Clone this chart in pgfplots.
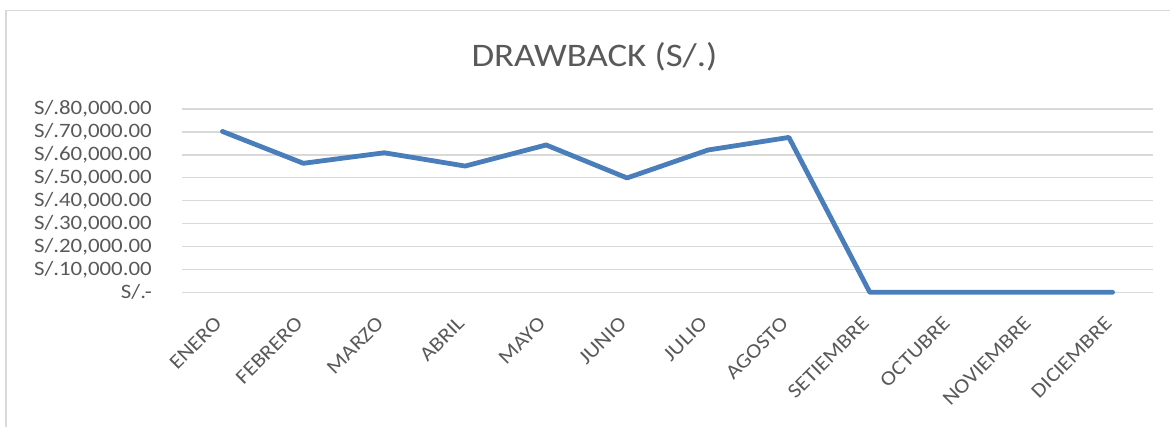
\documentclass[border=0pt]{standalone}
\usepackage{pgfplots}
\pgfplotsset{compat=1.18}
\usepackage{fontspec}
\setmainfont{Carlito}[FakeStretch=1.12]
\definecolor{txt}{HTML}{595959}
\definecolor{gridc}{HTML}{D9D9D9}
\definecolor{ln}{HTML}{4A7EBB}
\begin{document}
\begin{tikzpicture}[x=1bp,y=1bp]
\useasboundingbox (0,0) rectangle (1170,427);
\draw[gridc,line width=1.3bp] (6,0) -- (6,416.3) -- (1175,416.3);
\node[txt,font=\fontsize{33}{38}\selectfont] at (594.5,370) {DRAWBACK (S/.)};
\begin{axis}[
  at={(182bp,134.7bp)}, anchor=south west,
  scale only axis, width=971bp, height=183.3bp,
  xmin=-0.5, xmax=11.5, ymin=0, ymax=80000,
  axis line style={draw=none},
  xtick={0,...,11},
  xticklabels={ENERO,FEBRERO,MARZO,ABRIL,MAYO,JUNIO,JULIO,AGOSTO,SETIEMBRE,OCTUBRE,NOVIEMBRE,DICIEMBRE},
  ytick={0,10000,...,80000},
  scaled y ticks=false,
  yticklabels={S/.-,S/.10{,}000.00,S/.20{,}000.00,S/.30{,}000.00,S/.40{,}000.00,S/.50{,}000.00,S/.60{,}000.00,S/.70{,}000.00,S/.80{,}000.00},
  major tick length=0pt,
  xmajorgrids=false,
  ymajorgrids=true,
  major grid style={draw=gridc,line width=1.4bp},
  yticklabel style={txt,font=\fontsize{20.5}{24}\selectfont,anchor=east,inner sep=0pt,xshift=-30bp},
  xticklabel style={txt,font=\fontsize{20.5}{24}\selectfont,rotate=45,anchor=north east,inner sep=0pt,yshift=-10bp,xshift=-22.7bp},
  clip=false,
]
\addplot[ln,line width=4.8bp,line join=round,line cap=round] coordinates {
(0,70200) (1,56300) (2,60900) (3,55100) (4,64300) (5,49900) (6,62100) (7,67600) (8,0) (9,0) (10,0) (11,0)};
\end{axis}
\end{tikzpicture}
\end{document}
